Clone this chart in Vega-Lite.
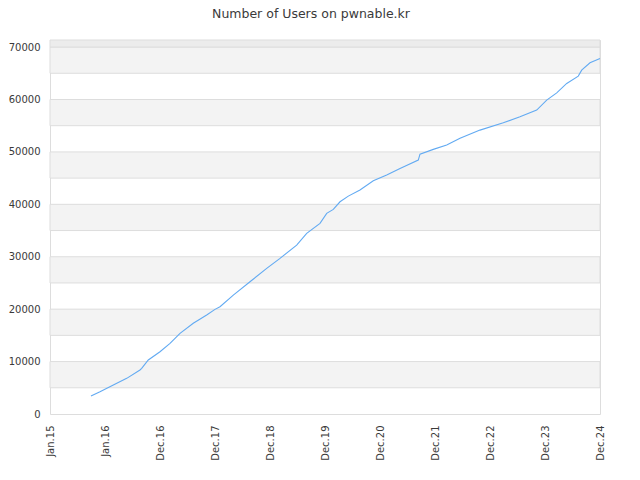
{
  "$schema": "https://vega.github.io/schema/vega-lite/v6.json",
  "width": 550,
  "height": 374,
  "autosize": "none",
  "padding": {"left": 50, "top": 40, "right": 40, "bottom": 66},
  "background": "white",
  "title": {
    "text": "Number of Users on pwnable.kr",
    "font": "DejaVu Sans",
    "fontSize": 12.5,
    "fontWeight": "normal",
    "color": "#3a3a3a",
    "offset": 19,
    "dx": -14
  },
  "config": {
    "view": {"stroke": "#dddddd"},
    "axis": {
      "labelFont": "DejaVu Sans",
      "labelFontSize": 10,
      "labelColor": "#3a3a3a",
      "domain": false,
      "ticks": false,
      "grid": false,
      "title": null
    }
  },
  "datasets": {
    "bands": [
      {"lo": 5000, "hi": 10000, "kind": "band"},
      {"lo": 15000, "hi": 20000, "kind": "band"},
      {"lo": 25000, "hi": 30000, "kind": "band"},
      {"lo": 35000, "hi": 40000, "kind": "band"},
      {"lo": 45000, "hi": 50000, "kind": "band"},
      {"lo": 55000, "hi": 60000, "kind": "band"},
      {"lo": 65000, "hi": 70000, "kind": "band"},
      {"lo": 70000, "hi": 71350, "kind": "top"}
    ],
    "users": [
      {"t": 0.745, "users": 3430},
      {"t": 0.909, "users": 4250},
      {"t": 1.151, "users": 5530},
      {"t": 1.395, "users": 6800},
      {"t": 1.636, "users": 8390},
      {"t": 1.667, "users": 8700},
      {"t": 1.787, "users": 10300},
      {"t": 2.0, "users": 11880},
      {"t": 2.182, "users": 13480},
      {"t": 2.364, "users": 15390},
      {"t": 2.605, "users": 17300},
      {"t": 2.849, "users": 18880},
      {"t": 3.0, "users": 19960},
      {"t": 3.091, "users": 20460},
      {"t": 3.333, "users": 22690},
      {"t": 3.636, "users": 25230},
      {"t": 3.94, "users": 27780},
      {"t": 4.182, "users": 29690},
      {"t": 4.485, "users": 32230},
      {"t": 4.667, "users": 34460},
      {"t": 4.909, "users": 36370},
      {"t": 5.031, "users": 38270},
      {"t": 5.151, "users": 39040},
      {"t": 5.273, "users": 40490},
      {"t": 5.424, "users": 41570},
      {"t": 5.636, "users": 42720},
      {"t": 5.878, "users": 44490},
      {"t": 6.122, "users": 45580},
      {"t": 6.364, "users": 46850},
      {"t": 6.696, "users": 48440},
      {"t": 6.727, "users": 49580},
      {"t": 6.969, "users": 50480},
      {"t": 7.213, "users": 51300},
      {"t": 7.455, "users": 52600},
      {"t": 7.818, "users": 54160},
      {"t": 8.242, "users": 55560},
      {"t": 8.545, "users": 56700},
      {"t": 8.849, "users": 57970},
      {"t": 9.031, "users": 59880},
      {"t": 9.213, "users": 61270},
      {"t": 9.395, "users": 63060},
      {"t": 9.605, "users": 64460},
      {"t": 9.667, "users": 65600},
      {"t": 9.818, "users": 67000},
      {"t": 10.0, "users": 67820}
    ]
  },
  "layer": [
    {
      "data": {"name": "bands"},
      "mark": {"type": "rect", "strokeWidth": 1, "stroke": "#dddddd"},
      "encoding": {
        "x": {"datum": 0, "type": "quantitative"},
        "x2": {"datum": 10},
        "y": {"field": "lo", "type": "quantitative"},
        "y2": {"field": "hi"},
        "fill": {
          "field": "kind",
          "type": "nominal",
          "scale": {"domain": ["band", "top"], "range": ["#f3f3f3", "#ececec"]},
          "legend": null
        }
      }
    },
    {
      "data": {"name": "users"},
      "mark": {"type": "line", "color": "#62aaf2", "strokeWidth": 1.1, "interpolate": "linear"},
      "encoding": {
        "x": {
          "field": "t",
          "type": "quantitative",
          "scale": {"domain": [0, 10], "nice": false, "zero": false},
          "axis": {
            "values": [0, 1, 2, 3, 4, 5, 6, 7, 8, 9, 10],
            "labelAngle": -90,
            "labelPadding": 11,
            "labelExpr": "['Jan.15','Jan.16','Dec.16','Dec.17','Dec.18','Dec.19','Dec.20','Dec.21','Dec.22','Dec.23','Dec.24'][datum.value]"
          }
        },
        "y": {
          "field": "users",
          "type": "quantitative",
          "scale": {"domain": [0, 71350], "nice": false},
          "axis": {
            "values": [0, 5000, 10000, 15000, 20000, 25000, 30000, 35000, 40000, 45000, 50000, 55000, 60000, 65000, 70000],
            "labelPadding": 10,
            "format": "d"
          }
        }
      }
    }
  ]
}
